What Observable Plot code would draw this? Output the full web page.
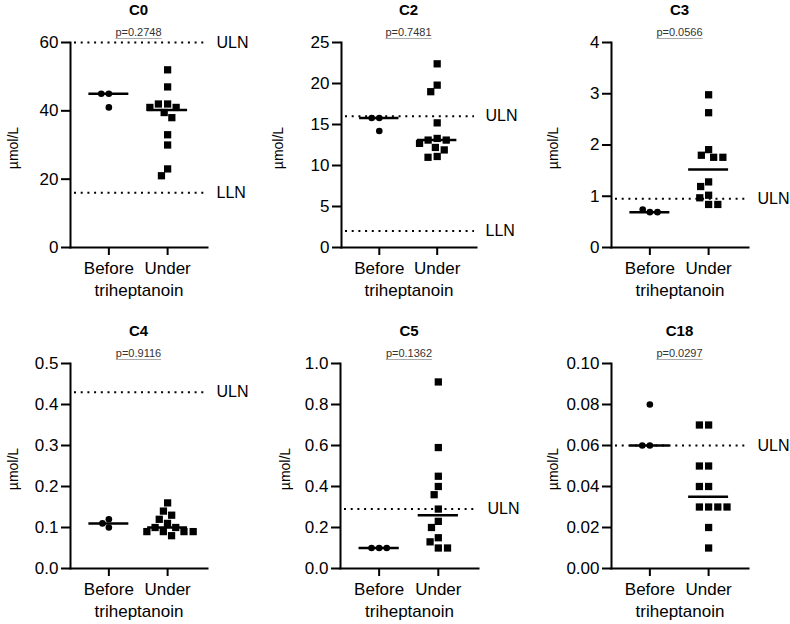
<!DOCTYPE html>
<html>
<head>
<meta charset="utf-8">
<script src="https://cdn.jsdelivr.net/npm/d3@7"></script>
<script src="https://cdn.jsdelivr.net/npm/@observablehq/plot@0.6"></script>
<style>
  body { margin: 0; background: #fff; }
  #chart { position: relative; width: 790px; height: 624px; font-family: "Liberation Sans", Arial, Helvetica, sans-serif; color: #000; }
  .panel { position: absolute; height: 303px; }
  .panel svg { position: absolute; left: 0; top: 0; }
  .title { position: absolute; top: 0; width: 120px; height: 20px; line-height: 20px; text-align: center; font-weight: bold; font-size: 15px; }
  .pval { position: absolute; top: 25px; width: 120px; height: 14px; line-height: 14px; text-align: center; font-size: 11px; color: #333; }
  .pval span { text-decoration: underline; text-decoration-color: #aaa; text-underline-offset: 2px; }
</style>
</head>
<body>
<div id="chart"></div>
<script>
// ---- data ----
const groups = ["Before", "Under"];
const titles = ["C0", "C2", "C3", "C4", "C5", "C18"];
const pValues = ["p=0.2748", "p=0.7481", "p=0.0566", "p=0.9116", "p=0.1362", "p=0.0297"];
const yMax = [60, 25, 4, 0.5, 1.0, 0.10];
const yTicks = [
  [0, 20, 40, 60],
  [0, 5, 10, 15, 20, 25],
  [0, 1, 2, 3, 4],
  [0, 0.1, 0.2, 0.3, 0.4, 0.5],
  [0, 0.2, 0.4, 0.6, 0.8, 1.0],
  [0, 0.02, 0.04, 0.06, 0.08, 0.10]
];
const tickFormats = ["d", "d", "d", ".1f", ".1f", ".2f"];
const ulnValues = [60, 16, 0.95, 0.43, 0.29, 0.06];
const llnValues = [16, 2, null, null, null, null];

const c0Before = [45, 45, 41];
const c0Under = [52, 47, 42, 42, 41, 41, 39.5, 38, 33, 30, 23, 21];
const c2Before = [15.8, 15.8, 14.2];
const c2Under = [22.4, 19.8, 19.0, 15.2, 13.3, 13.1, 13.1, 12.7, 12.2, 11.9, 11.1, 11.0];
const c3Before = [0.69, 0.74, 0.69];
const c3Under = [2.98, 2.63, 1.91, 1.80, 1.76, 1.76, 1.28, 1.19, 1.02, 0.97, 0.84, 0.84];
const c4Before = [0.12, 0.11, 0.10];
const c4Under = [0.16, 0.14, 0.13, 0.12, 0.11, 0.10, 0.10, 0.09, 0.09, 0.09, 0.09, 0.08];
const c5Before = [0.10, 0.10, 0.10];
const c5Under = [0.91, 0.59, 0.45, 0.40, 0.36, 0.29, 0.23, 0.20, 0.15, 0.13, 0.10, 0.10];
const c18Before = [0.08, 0.06, 0.06];
const c18Under = [0.07, 0.07, 0.05, 0.05, 0.04, 0.04, 0.03, 0.03, 0.03, 0.03, 0.02, 0.01];

const beforeSets = [c0Before, c2Before, c3Before, c4Before, c5Before, c18Before];
const underSets = [c0Under, c2Under, c3Under, c4Under, c5Under, c18Under];

// ---- layout ----
const FONT = '"Liberation Sans", Arial, Helvetica, sans-serif';
const H = 300, MT = 42, MB = 53;
const marginLefts = [70, 78, 85, 70, 77, 85];
const marginRights = [56, 50, 42, 56, 48, 42];
const yLabelOffsets = [62, 68, 63, 62, 60, 63];
const colLeft = [0, 263, 526], colWidth = [263, 263, 264], rowTop = [0, 321];
const band = {paddingInner: 0.32, paddingOuter: 0.326, align: 0.48, round: false};

function axesPlot(i, width) {
  const limits = [];
  if (ulnValues[i] != null) limits.push({value: ulnValues[i], label: "ULN"});
  if (llnValues[i] != null) limits.push({value: llnValues[i], label: "LLN"});
  return Plot.plot({
    width, height: H, marginTop: MT, marginBottom: MB,
    marginLeft: marginLefts[i], marginRight: marginRights[i],
    style: {fontFamily: FONT, background: "transparent", overflow: "visible", color: "black"},
    x: {type: "band", domain: groups, ...band, label: null},
    y: {domain: [0, yMax[i]], label: null},
    marks: [
      Plot.ruleY(limits, {y: "value", stroke: "black", strokeWidth: 2, strokeDasharray: "2,4.7", insetLeft: 4, insetRight: 2}),
      Plot.text(limits, {y: "value", text: "label", frameAnchor: "right", textAnchor: "start", dx: 9, fontSize: 16, fill: "black"}),
      Plot.axisY(yTicks[i], {tickSize: 9, tickPadding: 3, strokeWidth: 2, fontSize: 17, tickFormat: d3.format(tickFormats[i]), label: null}),
      Plot.axisX({tickSize: 8, tickPadding: 6.5, strokeWidth: 2, fontSize: 17, label: null}),
      Plot.text(["µmol/L"], {text: d => d, frameAnchor: "left", rotate: -90, textAnchor: "middle", lineAnchor: "top", dx: -yLabelOffsets[i], dy: 3, fontSize: 14, fill: "black"}),
      Plot.text(["triheptanoin"], {text: d => d, frameAnchor: "bottom", lineAnchor: "top", dy: 36, fontSize: 17, fill: "black"}),
      Plot.frame({anchor: "left", stroke: "black", strokeWidth: 2}),
      Plot.frame({anchor: "bottom", stroke: "black", strokeWidth: 2})
    ]
  });
}

function dataPlot(i, width) {
  const rows = [
    ...beforeSets[i].map(v => ({group: "Before", value: v})),
    ...underSets[i].map(v => ({group: "Under", value: v}))
  ];
  return Plot.plot({
    width, height: H, marginTop: MT, marginBottom: MB,
    marginLeft: marginLefts[i], marginRight: marginRights[i],
    style: {fontFamily: FONT, background: "transparent", overflow: "visible"},
    fx: {domain: groups, ...band, axis: null, label: null},
    y: {domain: [0, yMax[i]], axis: null},
    marks: [
      Plot.dot(rows.filter(d => d.group === "Before"),
        Plot.dodgeX("middle", {fx: "group", y: "value", r: 3.3, fill: "black", padding: 5.4})),
      Plot.dot(rows.filter(d => d.group === "Under"),
        Plot.dodgeX("middle", {fx: "group", y: "value", symbol: "square", r: 4.1, fill: "black", padding: 3.3})),
      Plot.tickY(rows, Plot.groupZ({y: "median"}, {fx: "group", y: "value", stroke: "black", strokeWidth: 2.5}))
    ]
  });
}

const chart = document.getElementById("chart");
titles.forEach((t, i) => {
  const col = i % 3, row = Math.floor(i / 3);
  const width = colWidth[col];
  const panel = document.createElement("div");
  panel.className = "panel";
  panel.style.left = colLeft[col] + "px";
  panel.style.top = rowTop[row] + "px";
  panel.style.width = width + "px";
  panel.appendChild(axesPlot(i, width));
  panel.appendChild(dataPlot(i, width));
  const cx = (marginLefts[i] + width - marginRights[i]) / 2;
  const title = document.createElement("div");
  title.className = "title";
  title.style.left = (cx - 60) + "px";
  title.textContent = t;
  panel.appendChild(title);
  const p = document.createElement("div");
  p.className = "pval";
  p.style.left = (cx - 60) + "px";
  const span = document.createElement("span");
  span.textContent = pValues[i];
  p.appendChild(span);
  panel.appendChild(p);
  chart.appendChild(panel);
});
</script>
</body>
</html>
